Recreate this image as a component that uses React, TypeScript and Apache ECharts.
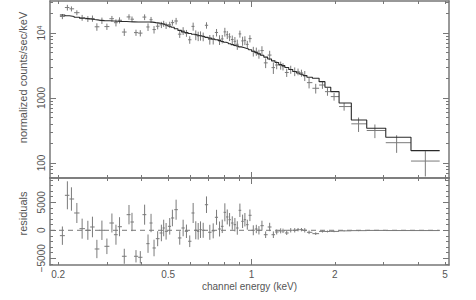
import React, { useEffect, useRef } from "react";
import * as echarts from "echarts";

// Bin centres (keV)
const energy = [
  0.2073, 0.2161, 0.2235, 0.2338, 0.2443, 0.2562, 0.2662, 0.2762, 0.288, 0.3002,
  0.313, 0.3237, 0.3335, 0.3469, 0.3608, 0.3699, 0.3824, 0.3964, 0.4109, 0.4227,
  0.4334, 0.4444, 0.458, 0.4724, 0.4815, 0.4913, 0.5063, 0.5177, 0.5339, 0.5503,
  0.5661, 0.5819, 0.5981, 0.6153, 0.6289, 0.6416, 0.654, 0.6689, 0.6875, 0.7067,
  0.727, 0.7474, 0.7663, 0.7838, 0.801, 0.8172, 0.8331, 0.852, 0.8708, 0.8884,
  0.9078, 0.9283, 0.9463, 0.9655, 0.9866, 1.0149, 1.0407, 1.0635, 1.0905, 1.1247,
  1.1629, 1.1993, 1.2329, 1.2745, 1.2994, 1.3401, 1.3856, 1.4325, 1.4724, 1.5147,
  1.5572, 1.614, 1.706, 1.804, 1.881, 1.987, 2.16, 2.436, 2.791, 3.344, 4.246,
];

// Folded model (counts/sec/keV)
const model = [
  18920, 18390, 17940, 17440, 16890, 16480, 16130, 15790, 15510, 15400,
  15290, 15190, 15080, 14980, 14870, 14820, 14770, 14770, 14770, 14770,
  14710, 14450, 14200, 13850, 13510, 13180, 12680, 12240, 11600, 10960,
  10390, 10110, 9824, 9550, 9350, 9150, 8990, 8800, 8560, 8320,
  8090, 7860, 7640, 7400, 7190, 7020, 6820, 6630, 6450, 6290,
  6110, 5960, 5815, 5672, 5514, 5230, 4977, 4770, 4540, 4258,
  3981, 3723, 3517, 3277, 3141, 2946, 2745, 2557, 2424, 2315,
  2211, 2082, 2010, 1782, 1461, 1250, 838, 459, 342, 249, 155,
];

// Residuals (data - model)
const resid = [
  -960, 6250, 5590, 3090, 290, 0, 590, -3340, 0, -2860,
  1300, -790, 640, -4640, 2790, 1480, -4640, -4820, 2790, -2390,
  1300, -3160, -1500, -480, 410, -180, 710, 2200, 3680, -1370,
  410, -180, -1960, 3090, 0, -180, 110, 0, 4570, -360,
  -100, 2320, 230, 710, 3210, 2380, 1890, 1300, 1000, 410,
  3570, 1600, 1890, 1000, 2680, 0, 230, 0, 820, -790,
  590, -790, -300, -100, -100, -480, 0, 0, 110, 110,
  0, -360, -600, -200, -210, -200, -100, -59, -26, -44, -48,
];

// 1-sigma errors
const sigma = [
  1640, 2500, 2090, 1790, 1790, 1700, 1840, 1640, 1730, 1390,
  1700, 1790, 1700, 1340, 1730, 1640, 1100, 1100, 1790, 1640,
  1640, 1480, 1340, 1480, 1480, 1480, 1480, 1480, 1790, 1200,
  1480, 1200, 1040, 1790, 1610, 1480, 1480, 1340, 1480, 1340,
  1340, 1340, 1340, 1200, 1610, 1340, 1200, 1200, 1200, 1200,
  1200, 1200, 1200, 890, 1040, 890, 750, 750, 890, 590,
  750, 590, 450, 450, 390, 360, 390, 390, 300, 300,
  390, 320, 240, 200, 170, 140, 100, 100, 75, 62, 45,
];

const xMinorTicks = [0.2, 0.3, 0.4, 0.5, 0.6, 0.7, 0.8, 0.9, 2, 3, 4, 5];
const xMajorTicks = [1];
const xTickLabels = [0.2, 0.5, 1, 2, 5];

const yTopMinorTicks = [60, 70, 80, 90, 200, 300, 400, 500, 600, 700, 800, 900,
  2000, 3000, 4000, 5000, 6000, 7000, 8000, 9000, 20000, 30000];
const yTopMajorTicks = [100, 1000, 10000];
const yTopLabels = [100, 1000, 10000];

const yBotMinorTicks = [-6000, -4000, -3000, -2000, -1000, 1000, 2000, 3000, 4000,
  6000, 7000, 8000, 9000];
const yBotMajorTicks = [-5000, 0, 5000];
const yBotLabels = [-5000, 0, 5000];

const X_MIN = 0.187;
const X_MAX = 5.17;
const YT_MIN = 58.7;
const YT_MAX = 31050;
const YB_MIN = -6200;
const YB_MAX = 9340;

const AXIS_COLOR = "#777";
const TEXT_COLOR = "#555";
const DATA_COLOR = "#7a7a7a";
const MODEL_COLOR = "#2a2a2a";
const FONT = "Liberation Sans";

export default function App() {
  const ref = useRef<HTMLDivElement>(null);

  useEffect(() => {
    if (!ref.current) return;
    const chart = echarts.init(ref.current, undefined, { renderer: "svg" });

    const n = energy.length;
    const edges: number[] = [];
    for (let i = 0; i <= n; i++) {
      if (i === 0) edges.push(energy[0] / Math.sqrt(energy[1] / energy[0]));
      else if (i === n) edges.push(energy[n - 1] * Math.sqrt(energy[n - 1] / energy[n - 2]));
      else edges.push(Math.sqrt(energy[i - 1] * energy[i]));
    }

    const modelHist: number[][] = [];
    for (let i = 0; i < n; i++) {
      modelHist.push([edges[i], model[i]]);
      modelHist.push([edges[i + 1], model[i]]);
    }
    const topData = energy.map((e, i) => [e, edges[i], edges[i + 1], model[i] + resid[i], sigma[i]]);
    const botData = energy.map((e, i) => [e, edges[i], edges[i + 1], resid[i], sigma[i]]);

    const crossRender = (params: any, api: any) => {
      const e = api.value(0), lo = api.value(1), hi = api.value(2), v = api.value(3), s = api.value(4);
      const pL = api.coord([lo, v]);
      const pR = api.coord([hi, v]);
      const pB = api.coord([e, v - s]);
      const pT = api.coord([e, v + s]);
      const style = { stroke: DATA_COLOR, lineWidth: 1 };
      return {
        type: "group",
        children: [
          { type: "line", shape: { x1: pL[0], y1: pL[1], x2: pR[0], y2: pR[1] }, style },
          { type: "line", shape: { x1: pB[0], y1: pB[1], x2: pT[0], y2: pT[1] }, style },
        ],
      };
    };

    const axisLine = (show: boolean) => ({
      show,
      onZero: false,
      lineStyle: { color: AXIS_COLOR, width: 1.5 },
    });

    const mkX = (grid: number, position: string, ticks: number[], len: number, main: boolean, labels?: boolean) => ({
      type: "log",
      gridIndex: grid,
      position,
      min: X_MIN,
      max: X_MAX,
      logBase: 10,
      axisLine: axisLine(main),
      axisTick: { show: true, inside: true, length: len, customValues: ticks, lineStyle: { color: AXIS_COLOR, width: 1 } },
      axisLabel: labels
        ? {
            show: true,
            customValues: xTickLabels,
            margin: 4,
            color: TEXT_COLOR,
            fontFamily: FONT,
            fontSize: 10,
            formatter: (v: number) => String(+Number(v).toPrecision(3)),
          }
        : { show: false },
      splitLine: { show: false },
      ...(labels
        ? {
            name: "channel energy (keV)",
            nameLocation: "middle",
            nameGap: 16,
            nameTextStyle: { color: TEXT_COLOR, fontFamily: FONT, fontSize: 10 },
          }
        : {}),
    });

    const xAxes = [
      mkX(0, "bottom", xMinorTicks, 3, true),
      mkX(0, "bottom", xMajorTicks, 6, false),
      mkX(0, "top", xMinorTicks, 3, true),
      mkX(0, "top", xMajorTicks, 6, false),
      mkX(1, "bottom", xMinorTicks, 3, true, true),
      mkX(1, "bottom", xMajorTicks, 6, false),
      mkX(1, "top", xMinorTicks, 3, true),
      mkX(1, "top", xMajorTicks, 6, false),
    ];

    const mkYTop = (position: string, ticks: number[], len: number, main: boolean, labels?: boolean) => ({
      type: "log",
      gridIndex: 0,
      position,
      min: YT_MIN,
      max: YT_MAX,
      logBase: 10,
      axisLine: axisLine(main),
      axisTick: { show: true, inside: true, length: len, customValues: ticks, lineStyle: { color: AXIS_COLOR, width: 1 } },
      axisLabel: labels
        ? {
            show: true,
            customValues: yTopLabels,
            rotate: 90,
            margin: 4,
            color: TEXT_COLOR,
            fontFamily: FONT,
            fontSize: 10,
            formatter: (v: number) => {
              const r = Math.round(v);
              return r === 10000 ? "10{sup|4}" : String(r);
            },
            rich: { sup: { fontSize: 7, verticalAlign: "top", color: TEXT_COLOR, fontFamily: FONT } },
          }
        : { show: false },
      splitLine: { show: false },
      ...(labels
        ? {
            name: "normalized counts/sec/keV",
            nameLocation: "middle",
            nameRotate: 90,
            nameGap: 22,
            nameTextStyle: { color: TEXT_COLOR, fontFamily: FONT, fontSize: 11, padding: [0, 0, 0, 24] },
          }
        : {}),
    });

    const mkYBot = (position: string, ticks: number[], len: number, main: boolean, labels?: boolean) => ({
      type: "value",
      gridIndex: 1,
      position,
      min: YB_MIN,
      max: YB_MAX,
      axisLine: axisLine(main),
      axisTick: { show: true, inside: true, length: len, customValues: ticks, lineStyle: { color: AXIS_COLOR, width: 1 } },
      axisLabel: labels
        ? {
            show: true,
            customValues: yBotLabels,
            rotate: 90,
            margin: 4,
            color: TEXT_COLOR,
            fontFamily: FONT,
            fontSize: 10,
            formatter: (v: number) => String(Math.round(v)).replace("-", "\u2212"),
          }
        : { show: false },
      splitLine: { show: false },
      ...(labels
        ? {
            name: "residuals",
            nameLocation: "middle",
            nameRotate: 90,
            nameGap: 22,
            nameTextStyle: { color: TEXT_COLOR, fontFamily: FONT, fontSize: 11, padding: [0, 0, 0, 16] },
          }
        : {}),
    });

    const yAxes = [
      mkYTop("left", yTopMinorTicks, 3, true, true),
      mkYTop("left", yTopMajorTicks, 6, false),
      mkYTop("right", yTopMinorTicks, 3, true),
      mkYTop("right", yTopMajorTicks, 6, false),
      mkYBot("left", yBotMinorTicks, 3, true, true),
      mkYBot("left", yBotMajorTicks, 6, false),
      mkYBot("right", yBotMinorTicks, 3, true),
      mkYBot("right", yBotMajorTicks, 6, false),
    ];

    chart.setOption({
      animation: false,
      backgroundColor: "#ffffff",
      textStyle: { fontFamily: FONT, color: TEXT_COLOR },
      grid: [
        { left: 50, right: 27, top: 1, height: 177, containLabel: false },
        { left: 50, right: 27, top: 178, height: 87, containLabel: false },
      ],
      xAxis: xAxes,
      yAxis: yAxes,
      series: [
        {
          type: "custom",
          name: "data",
          xAxisIndex: 0,
          yAxisIndex: 0,
          renderItem: crossRender,
          data: topData,
          encode: { x: 0, y: 3 },
          clip: true,
          z: 2,
        },
        {
          type: "line",
          name: "model",
          xAxisIndex: 0,
          yAxisIndex: 0,
          data: modelHist,
          showSymbol: false,
          symbol: "none",
          lineStyle: { color: MODEL_COLOR, width: 1.1 },
          z: 3,
        },
        {
          type: "line",
          name: "zero",
          xAxisIndex: 4,
          yAxisIndex: 4,
          data: [[X_MIN, 0], [edges[n], 0]],
          showSymbol: false,
          symbol: "none",
          lineStyle: { color: AXIS_COLOR, width: 1, type: [5, 4] },
          z: 1,
        },
        {
          type: "custom",
          name: "residuals",
          xAxisIndex: 4,
          yAxisIndex: 4,
          renderItem: crossRender,
          data: botData,
          encode: { x: 0, y: 3 },
          clip: true,
          z: 2,
        },
      ],
    });

    return () => chart.dispose();
  }, []);

  return (
    <div
      ref={ref}
      style={{ position: "fixed", left: 0, top: 0, width: 476, height: 300, background: "#fff" }}
    />
  );
}
